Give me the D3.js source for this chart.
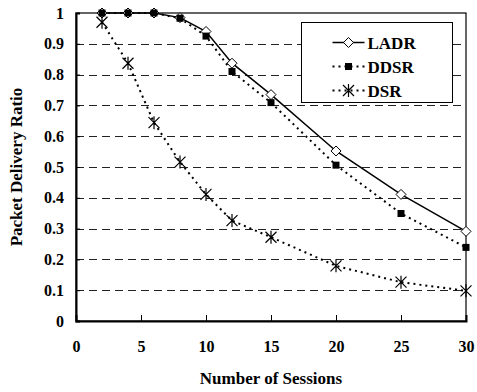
<!DOCTYPE html>
<html>
<head>
<meta charset="utf-8">
<script src="https://cdn.jsdelivr.net/npm/d3@7"></script>
<style>
  body { margin: 0; background: #fff; }
</style>
</head>
<body>
<svg id="chart" width="477" height="392"></svg>
<script>
// data
var sessions = [2, 4, 6, 8, 10, 12, 15, 20, 25, 30];
var ladr = [1, 1, 1, 0.985, 0.94, 0.837, 0.735, 0.552, 0.411, 0.291];
var ddsr = [1, 1, 1, 0.983, 0.925, 0.81, 0.709, 0.506, 0.349, 0.239];
var dsr  = [0.97, 0.837, 0.644, 0.516, 0.411, 0.326, 0.272, 0.179, 0.126, 0.098];
var xTicks = [0, 5, 10, 15, 20, 25, 30];
var yTicks = [0, 0.1, 0.2, 0.3, 0.4, 0.5, 0.6, 0.7, 0.8, 0.9, 1];
var seriesNames = ["LADR", "DDSR", "DSR"];

var FONT = "'Liberation Serif', 'Times New Roman', Times, serif";

var svg = d3.select("#chart");
var margin = {left: 76, top: 13, right: 11, bottom: 71},
    width = 477 - margin.left - margin.right,
    height = 392 - margin.top - margin.bottom;

var x = d3.scaleLinear().domain([0, 30]).range([0, width]);
var y = d3.scaleLinear().domain([0, 1]).range([height, 0]);

var g = svg.append("g").attr("transform", "translate(" + margin.left + "," + margin.top + ")");

// dashed gridlines
g.append("g").selectAll("line")
  .data(yTicks.filter(function(d) { return d > 0 && d < 1; }))
  .enter().append("line")
  .attr("x1", 0).attr("x2", width)
  .attr("y1", d => Math.round(y(d)) + 0.5).attr("y2", d => Math.round(y(d)) + 0.5)
  .attr("stroke", "#222").attr("stroke-width", 1)
  .attr("stroke-dasharray", "8,5");

// frame
g.append("rect").attr("width", width).attr("height", height)
  .attr("fill", "none").attr("stroke", "#000").attr("stroke-width", 1.2);

// axes
var xAxis = g.append("g").attr("transform", "translate(0," + height + ")")
  .call(d3.axisBottom(x).tickValues(xTicks).tickSize(-6).tickPadding(20).tickFormat(d3.format("d")));
var yAxis = g.append("g")
  .call(d3.axisLeft(y).tickValues(yTicks).tickSize(-4).tickPadding(12)
    .tickFormat(function(d) { return d === 0 || d === 1 ? d : d3.format(".1f")(d); }));
[xAxis, yAxis].forEach(function(a) {
  a.attr("font-family", null).attr("font-size", null);
  a.select(".domain").attr("stroke", "#000").attr("stroke-width", 2);
  a.selectAll(".tick line").attr("stroke", "#000");
  a.selectAll("text").style("font-size", "16px");
});

svg.append("text").attr("x", margin.left + width / 2).attr("y", 384)
  .attr("text-anchor", "middle").style("font-size", "17px").text("Number of Sessions");
svg.append("text")
  .attr("transform", "translate(22," + (margin.top + height / 2) + ") rotate(-90)")
  .attr("text-anchor", "middle").style("font-size", "17px").text("Packet Delivery Ratio");

// series
var line = d3.line().x(d => x(d[0])).y(d => y(d[1]));
var styles = [
  {vals: ladr, dash: null, w: 1.5, marker: "diamond"},
  {vals: ddsr, dash: "2,4", w: 2, marker: "square"},
  {vals: dsr, dash: "2,4", w: 2, marker: "star"}
];

function drawMarker(sel, type) {
  if (type === "diamond") {
    sel.append("path").attr("d", "M0,-5L5,0L0,5L-5,0Z")
      .attr("fill", "#fff").attr("stroke", "#000").attr("stroke-width", 1);
  } else if (type === "square") {
    sel.append("rect").attr("x", -3.5).attr("y", -3.5).attr("width", 7).attr("height", 7).attr("fill", "#000");
  } else {
    sel.append("path").attr("d", "M-5.5,-5.5L5.5,5.5M-5.5,5.5L5.5,-5.5M0,-6.5L0,6.5")
      .attr("stroke", "#000").attr("stroke-width", 1.2).attr("fill", "none");
  }
}

styles.forEach(function(s) {
  var pts = sessions.map(function(v, i) { return [v, s.vals[i]]; });
  g.append("path").datum(pts).attr("d", line)
    .attr("fill", "none").attr("stroke", "#000").attr("stroke-width", s.w)
    .attr("stroke-dasharray", s.dash);
  g.append("g").selectAll("g").data(pts).enter().append("g")
    .attr("transform", d => "translate(" + x(d[0]) + "," + y(d[1]) + ")")
    .each(function() { drawMarker(d3.select(this), s.marker); });
});

// legend
var leg = svg.append("g").attr("transform", "translate(301.5,22.5)");
leg.append("rect").attr("width", 151).attr("height", 80)
  .attr("fill", "#fff").attr("stroke", "#000").attr("stroke-width", 1);
seriesNames.forEach(function(name, i) {
  var row = leg.append("g").attr("transform", "translate(0," + (20 + i * 24) + ")");
  row.append("line").attr("x1", 31).attr("x2", 63)
    .attr("stroke", "#000").attr("stroke-width", styles[i].w)
    .attr("stroke-dasharray", styles[i].dash);
  drawMarker(row.append("g").attr("transform", "translate(47,0)"), styles[i].marker);
  row.append("text").attr("x", 66).attr("y", 6).style("font-size", "17px").text(name);
});

svg.selectAll("text").style("font-family", FONT).style("font-weight", "bold").style("fill", "#000");
</script>
</body>
</html>
